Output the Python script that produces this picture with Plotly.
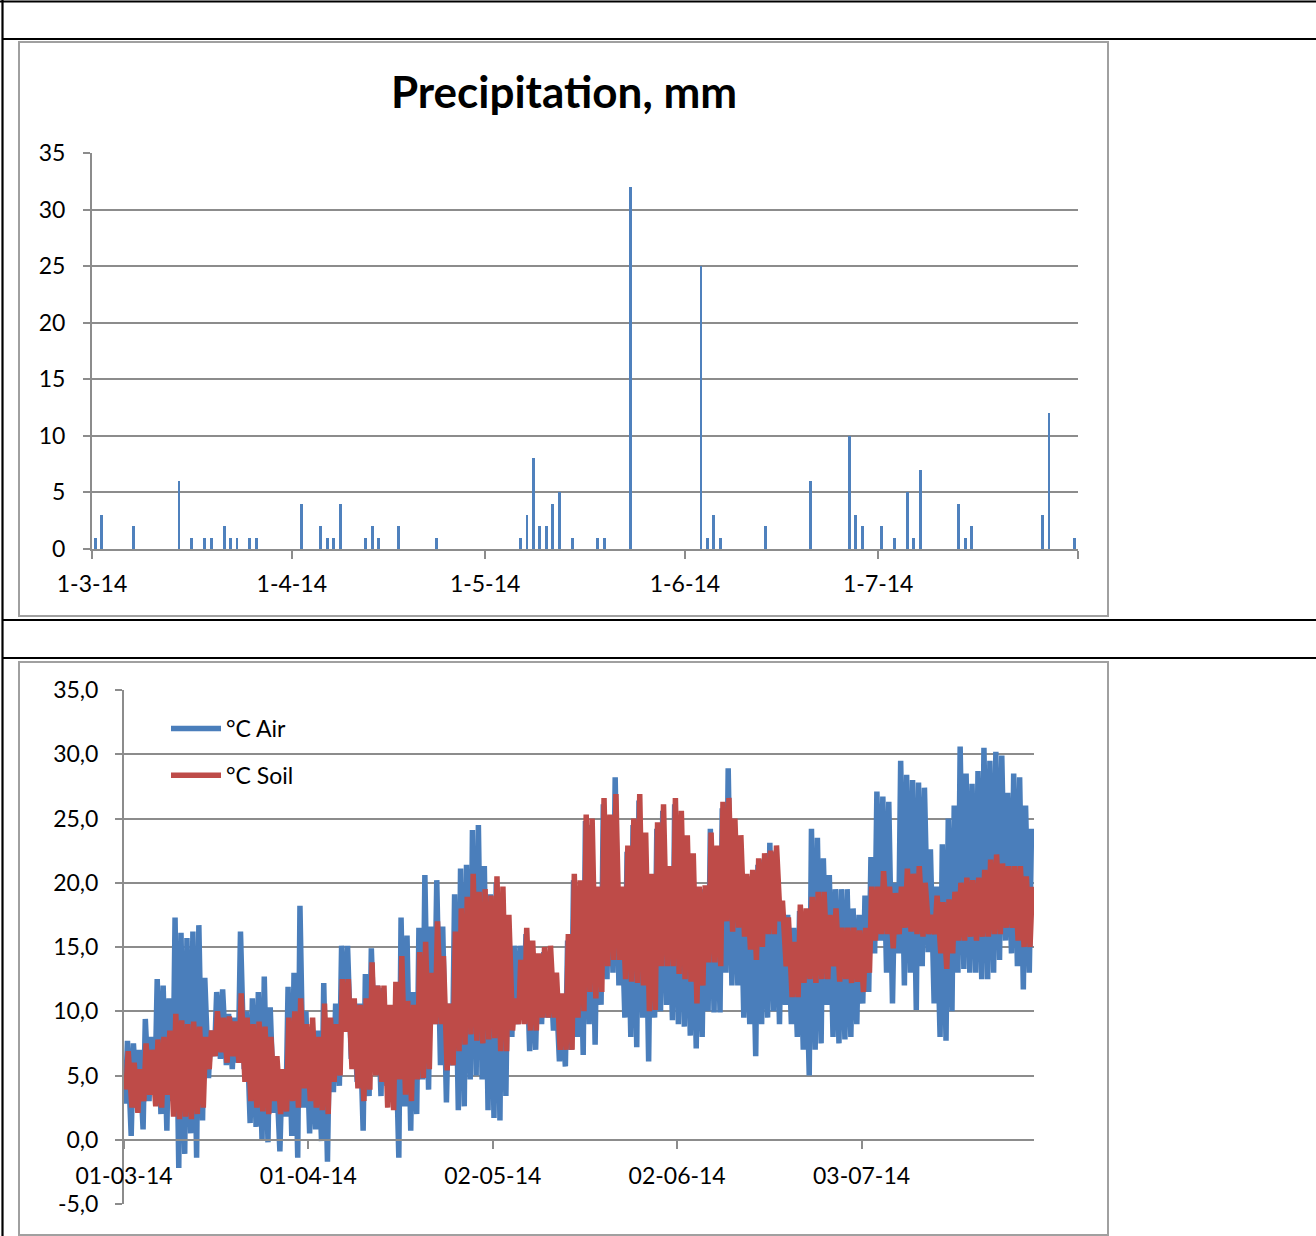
import plotly.graph_objects as go
import pandas as pd

W, H = 1316, 1236

# ---------------- Precipitation (mm per day) ----------------
precip_dates = [
    "2014-03-01", "2014-03-02", "2014-03-07", "2014-03-14", "2014-03-16", "2014-03-18",
    "2014-03-19", "2014-03-21", "2014-03-22", "2014-03-23", "2014-03-25", "2014-03-26",
    "2014-04-02", "2014-04-05", "2014-04-06", "2014-04-07", "2014-04-08", "2014-04-12",
    "2014-04-13", "2014-04-14", "2014-04-17", "2014-04-23", "2014-05-06", "2014-05-07",
    "2014-05-08", "2014-05-09", "2014-05-10", "2014-05-11", "2014-05-12", "2014-05-14",
    "2014-05-18", "2014-05-19", "2014-05-23", "2014-06-03", "2014-06-04", "2014-06-05",
    "2014-06-06", "2014-06-13", "2014-06-20", "2014-06-26", "2014-06-27", "2014-06-28",
    "2014-07-01", "2014-07-03", "2014-07-05", "2014-07-06", "2014-07-07", "2014-07-13",
    "2014-07-14", "2014-07-15", "2014-07-26", "2014-07-27", "2014-07-31",
]
precip_mm = [
    1, 3, 2, 6, 1, 1,
    1, 2, 1, 1, 1, 1,
    4, 2, 1, 1, 4, 1,
    2, 1, 2, 1, 1, 3,
    8, 2, 2, 4, 5, 1,
    1, 1, 32, 25, 1, 3,
    1, 2, 6, 10, 3, 2,
    2, 1, 5, 1, 7, 4,
    1, 2, 3, 12, 1,
]
precip_tickvals = ["2014-03-01", "2014-04-01", "2014-05-01", "2014-06-01", "2014-07-01", "2014-08-01"]
precip_ticktext = ["1-3-14", "1-4-14", "1-5-14", "1-6-14", "1-7-14", ""]
precip_yticks = [0, 5, 10, 15, 20, 25, 30, 35]

# ---------------- Temperature: daily extremes (1 Mar - 31 Jul 2014) ----------------
air_max = [
    # March
    7.7, 7.5, 7.0, 9.4, 8.0, 12.5, 12.0, 11.0, 17.3, 16.1, 15.7, 16.2, 16.7, 12.6, 8.5, 11.5,
    11.7, 9.8, 9.5, 16.2, 10.0, 11.0, 11.5, 12.7, 10.3, 5.8, 5.5, 11.9, 13.0, 18.2, 10.0,
    # April
    8.5, 8.5, 12.2, 9.0, 10.6, 15.1, 15.1, 10.6, 10.6, 12.9, 14.9, 12.0, 11.8, 10.3, 10.0, 17.3,
    15.9, 11.5, 16.5, 20.6, 16.6, 20.2, 16.6, 10.6, 19.1, 21.1, 21.4, 24.1, 24.5, 21.3, 19.1,
    # May
    20.0, 19.0, 17.0, 15.1, 15.1, 16.0, 15.0, 14.0, 14.6, 14.6, 12.5, 11.0, 15.5, 20.2, 19.7, 24.8,
    24.5, 19.2, 26.1, 25.0, 28.2, 19.5, 22.4, 24.5, 26.4, 23.4, 20.2, 24.2, 25.6, 20.8, 26.1,
    # June
    25.1, 23.2, 21.8, 19.2, 19.5, 24.2, 22.4, 25.8, 28.9, 24.5, 23.2, 20.2, 20.5, 21.4, 21.8, 23.1,
    22.4, 18.1, 17.5, 16.5, 17.8, 17.0, 24.2, 23.5, 21.9, 20.6, 19.5, 19.5, 19.5, 18.0,
    17.5,
    # July
    19.0, 22.0, 27.1, 26.7, 26.3, 20.0, 29.5, 28.4, 28.0, 27.8, 27.4, 22.6, 19.7, 23.0, 25.0,
    26.0, 30.6, 28.5, 27.7, 28.7, 30.5, 29.5, 30.2, 29.9, 27.0, 28.5, 28.2, 26.0, 24.2,
]
air_min = [
    # March
    2.8, 0.3, 2.5, 0.8, 3.0, 4.0, 2.0, 0.7, 3.0, -2.2, -1.1, 0.5, -1.4, 1.5, 4.8, 6.5,
    6.3, 5.8, 5.5, 6.0, 5.5, 1.3, 1.0, -0.1, -0.2, 2.1, -0.9, 1.8, 0.3, -1.4, 2.5,
    # April
    0.5, 0.8, -0.1, -1.7, 3.7, 4.2, 8.4, 6.3, 4.5, 0.7, 3.4, 6.3, 3.4, 4.2, 3.5, -1.4,
    2.6, 0.7, 2.0, 4.7, 3.9, 9.0, 5.8, 2.9, 5.8, 2.3, 2.6, 4.7, 5.0, 4.7, 2.3,
    # May
    1.7, 1.5, 3.4, 8.0, 9.0, 9.5, 6.9, 7.0, 9.0, 9.5, 8.5, 6.1, 5.7, 7.0, 8.0, 6.6,
    9.0, 7.4, 10.5, 12.5, 13.0, 12.0, 9.5, 8.0, 7.2, 9.5, 6.1, 9.5, 10.0, 10.5, 9.3,
    # June
    9.0, 8.8, 8.1, 7.1, 8.0, 10.0, 9.9, 9.9, 13.0, 12.0, 12.0, 9.5, 9.0, 6.5, 9.0, 9.5,
    10.0, 9.0, 10.5, 9.0, 8.0, 7.0, 5.0, 7.0, 7.5, 10.5, 8.0, 7.5, 7.8, 8.0, 9.0,
    # July
    10.6, 11.5, 14.5, 15.5, 13.0, 10.6, 14.5, 12.0, 13.0, 10.1, 13.5, 14.6, 10.6, 8.0, 7.7,
    10.0, 13.0, 13.3, 13.0, 13.0, 12.5, 12.5, 13.0, 14.0, 15.5, 14.5, 13.5, 11.7, 13.0,
]
soil_max = [
    # March
    6.9, 6.0, 5.5, 7.5, 7.0, 7.8, 8.0, 8.5, 9.8, 9.3, 9.0, 9.2, 8.8, 8.0, 8.5, 10.0,
    9.5, 9.6, 9.2, 11.4, 9.5, 9.0, 9.2, 8.8, 8.0, 6.5, 5.5, 9.5, 10.0, 11.0, 9.0,
    # April
    9.5, 8.0, 10.6, 9.5, 9.0, 12.5, 12.5, 11.0, 10.5, 11.0, 13.8, 12.0, 12.0, 10.5, 12.3, 14.3,
    10.8, 10.5, 14.6, 15.4, 13.0, 17.0, 14.3, 10.6, 16.2, 18.0, 18.9, 20.7, 19.3, 19.5, 19.0,
    # May
    20.5, 19.7, 17.5, 11.0, 14.0, 16.5, 15.5, 14.5, 15.0, 15.1, 13.0, 11.4, 16.0, 20.7, 20.2, 25.3,
    25.0, 19.7, 26.6, 25.3, 26.9, 19.7, 22.9, 25.0, 26.9, 23.9, 20.7, 24.7, 26.1, 21.3, 26.6,
    # June
    25.6, 23.7, 22.3, 19.7, 19.8, 23.9, 22.9, 26.3, 26.6, 25.0, 23.7, 20.7, 21.0, 21.9, 22.3, 22.5,
    22.9, 18.6, 17.3, 15.4, 18.3, 18.0, 18.9, 19.3, 19.3, 17.5, 18.0, 16.5, 16.5, 16.5, 16.3,
    # July
    16.5, 19.7, 19.7, 20.9, 19.7, 19.2, 19.7, 21.1, 20.7, 21.3, 20.0, 17.5, 19.0, 18.5, 18.7,
    19.3, 20.0, 20.4, 20.2, 20.4, 21.0, 21.8, 22.2, 21.5, 21.3, 21.3, 21.3, 20.5, 19.7,
]
soil_min = [
    # March
    3.9, 2.5, 2.1, 3.0, 3.5, 2.6, 2.5, 3.5, 1.8, 1.6, 1.8, 1.6, 2.0, 2.5, 5.5, 6.5,
    6.8, 6.0, 6.5, 6.0, 4.5, 3.0, 2.5, 2.2, 2.0, 3.0, 2.0, 2.2, 3.0, 2.5, 4.0,
    # April
    3.0, 2.5, 2.3, 2.0, 4.5, 5.0, 8.4, 5.5, 4.0, 3.0, 3.9, 5.0, 4.5, 2.5, 2.3, 4.7,
    3.5, 3.0, 4.7, 4.8, 5.5, 9.0, 9.0, 5.4, 5.8, 6.9, 7.4, 8.2, 7.7, 7.5, 7.8,
    # May
    7.9, 6.9, 6.9, 8.5, 9.0, 9.0, 8.5, 8.5, 9.5, 9.5, 9.5, 7.0, 7.0, 7.0, 9.5, 10.0,
    11.5, 11.0, 11.5, 13.5, 14.0, 14.0, 12.5, 12.3, 12.2, 12.0, 10.0, 10.1, 13.5, 13.5, 13.5,
    # June
    12.9, 12.5, 12.3, 10.6, 12.0, 13.8, 13.8, 13.5, 17.0, 16.2, 16.5, 15.8, 14.8, 14.0, 15.0, 16.0,
    16.0, 17.0, 13.5, 11.1, 11.1, 12.2, 12.5, 12.2, 12.5, 12.5, 13.5, 12.3, 12.5, 12.2, 12.3,
    # July
    11.5, 13.0, 15.5, 16.0, 16.0, 14.9, 16.0, 16.5, 16.2, 16.0, 15.8, 16.0, 16.0, 14.5, 13.3,
    14.5, 15.5, 15.5, 15.8, 15.5, 15.8, 15.8, 16.0, 16.0, 16.5, 16.5, 15.5, 15.0, 15.0,
]
temp_tickvals = ["2014-03-01", "2014-04-01", "2014-05-02", "2014-06-02", "2014-07-03"]
temp_ticktext = ["01-03-14", "01-04-14", "02-05-14", "02-06-14", "03-07-14"]
temp_yvals = [-5, 0, 5, 10, 15, 20, 25, 30, 35]
temp_ytext = ["-5,0", "0,0", "5,0", "10,0", "15,0", "20,0", "25,0", "30,0", "35,0"]

# ---------------- helpers ----------------
def px(x):
    return x / W

def py(y):
    return 1 - y / H

FONT = "Lato"
GRID = "#8C8C8C"
BLUE_BAR = "#4F81BD"
BLUE = "#4A7EBB"
RED = "#BE4B48"

days = pd.date_range("2014-03-01", periods=len(air_max), freq="D")
air_x, air_y, soil_x, soil_y = [], [], [], []
for d, lo, hi in zip(days, air_min, air_max):
    air_x += [d + pd.Timedelta(hours=5), d + pd.Timedelta(hours=14)]
    air_y += [lo, hi]
for d, lo, hi in zip(days, soil_min, soil_max):
    soil_x += [d + pd.Timedelta(hours=8), d + pd.Timedelta(hours=17)]
    soil_y += [lo, hi]

bar_x = [pd.Timestamp(s) + pd.Timedelta(hours=12) for s in precip_dates]

fig = go.Figure()
fig.add_trace(go.Bar(x=bar_x, y=precip_mm, width=0.46 * 86400000,
                     marker=dict(color=BLUE_BAR, line=dict(width=0)),
                     xaxis="x", yaxis="y", showlegend=False))
fig.add_trace(go.Scatter(x=air_x, y=air_y, mode="lines", name="°C Air",
                         line=dict(color=BLUE, width=5.5), legendgroup="a",
                         xaxis="x2", yaxis="y2"))
fig.add_trace(go.Scatter(x=soil_x, y=soil_y, mode="lines", name="°C Soil",
                         line=dict(color=RED, width=5.5), legendgroup="b",
                         xaxis="x2", yaxis="y2"))

y2d = [py(1204), py(690)]
zero_pos = y2d[0] + (0 - (-5)) / 40 * (y2d[1] - y2d[0])

tickfont = dict(family=FONT, size=23, color="black")
common = dict(automargin=False, zeroline=False, showline=True, linecolor=GRID, linewidth=2,
              ticks="outside", tickwidth=2, tickcolor=GRID, tickfont=tickfont,
              tickmode="array")

fig.update_layout(
    width=W, height=H,
    margin=dict(l=0, r=0, t=0, b=0, pad=0, autoexpand=False),
    paper_bgcolor="white", plot_bgcolor="white",
    font=dict(family=FONT, color="black"),
    bargap=0,
    title=dict(text="<b>Precipitation, mm</b>", x=px(564), xanchor="center",
               y=py(93), yanchor="middle", xref="paper", yref="paper",
               font=dict(family=FONT, size=44, color="black")),
    xaxis=dict(domain=[px(92), px(1078)], anchor="y", type="date",
               range=["2014-03-01", "2014-08-01"],
               tickvals=precip_tickvals, ticktext=precip_ticktext,
               showgrid=False, ticklen=8, ticklabelstandoff=5, **common),
    yaxis=dict(domain=[py(549), py(153)], anchor="x", range=[0, 35],
               tickvals=precip_yticks, ticktext=[str(v) for v in precip_yticks],
               showgrid=True, gridcolor=GRID, gridwidth=2,
               ticklen=7, ticklabelstandoff=13, **common),
    xaxis2=dict(domain=[px(124), px(1034)], anchor="free", position=zero_pos, type="date",
                range=["2014-03-01", "2014-08-01"],
                tickvals=temp_tickvals, ticktext=temp_ticktext,
                showgrid=False, ticklen=8, ticklabelstandoff=8, **common),
    yaxis2=dict(domain=y2d, anchor="x2", range=[-5, 35],
                tickvals=temp_yvals, ticktext=temp_ytext,
                showgrid=True, gridcolor=GRID, gridwidth=2,
                ticklen=7, ticklabelstandoff=12, **common),
    legend=dict(x=px(166), y=py(707), xanchor="left", yanchor="top",
                bgcolor="rgba(0,0,0,0)", borderwidth=0,
                font=dict(family=FONT, size=23, color="black"),
                itemwidth=50, tracegroupgap=14, orientation="v"),
    showlegend=True,
)

shapes = []
# table borders (black)
for (x0, y0, x1, y1) in [(0, 1.5, W, 1.5), (2.5, 0, 2.5, H), (2, 39, W, 39),
                         (2, 620, W, 620), (2, 658, W, 658)]:
    shapes.append(dict(type="line", xref="paper", yref="paper",
                       x0=px(x0), y0=py(y0), x1=px(x1), y1=py(y1),
                       line=dict(color="black", width=2.2)))
# chart frames (gray)
for (x0, y0, x1, y1) in [(19, 42, 1108, 616), (19, 662, 1108, 1235)]:
    shapes.append(dict(type="rect", xref="paper", yref="paper",
                       x0=px(x0), y0=py(y1), x1=px(x1), y1=py(y0),
                       line=dict(color="#A0A0A0", width=2), fillcolor="rgba(0,0,0,0)",
                       layer="below"))
fig.update_layout(shapes=shapes)

fig.write_html("out.html", config={"displayModeBar": False},
               post_script="document.body.style.margin='0';")
